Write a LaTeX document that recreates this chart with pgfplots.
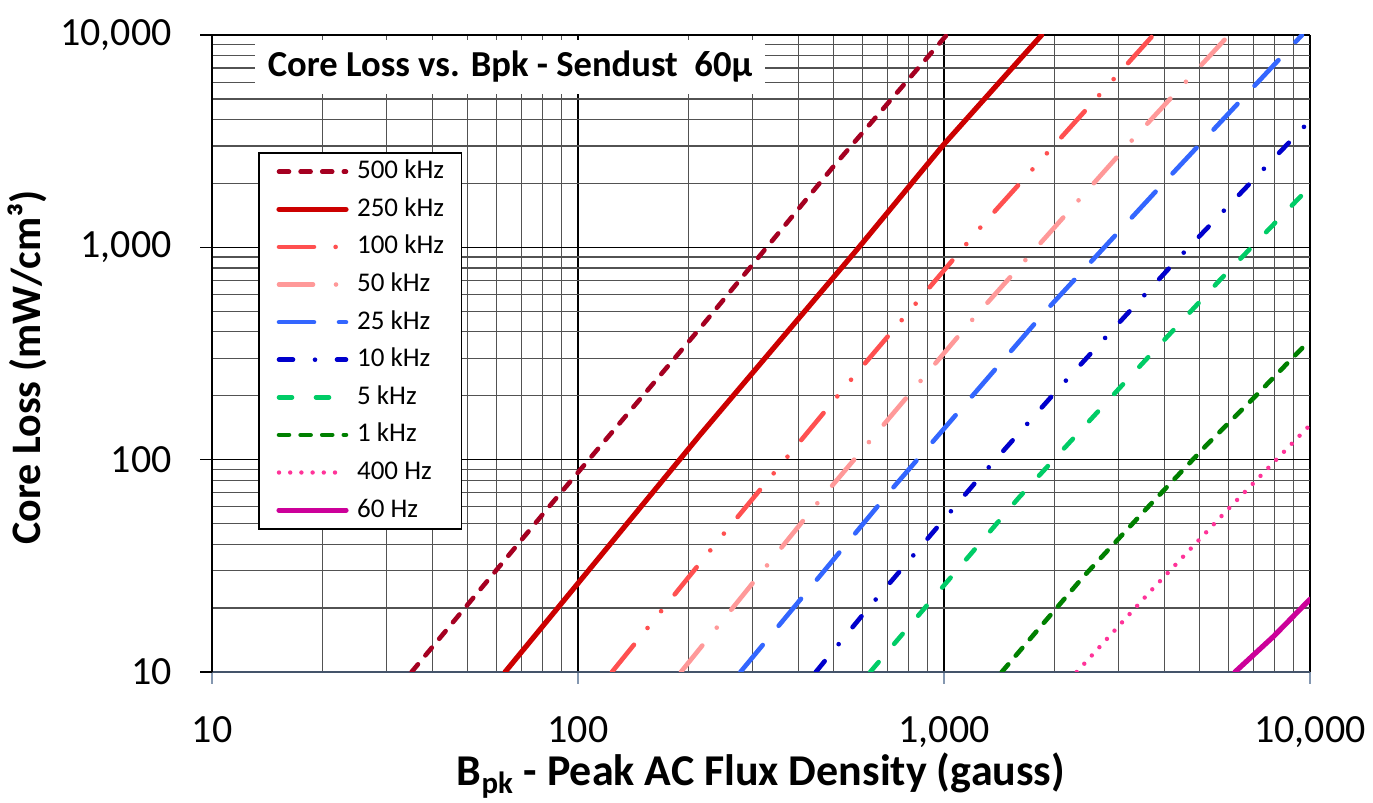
\documentclass[border=0pt]{standalone}
\usepackage{pgfplots}
\pgfplotsset{compat=1.18}
\usepackage{fontspec}
\setmainfont{Carlito}

\definecolor{c500}{HTML}{A50021}
\definecolor{c250}{HTML}{CC0000}
\definecolor{c100}{HTML}{FF5050}
\definecolor{c50}{HTML}{FF9999}
\definecolor{c25}{HTML}{3366FF}
\definecolor{c10}{HTML}{0000CC}
\definecolor{c5}{HTML}{00CC66}
\definecolor{c1k}{HTML}{008000}
\definecolor{c400}{HTML}{FF3399}
\definecolor{c60}{HTML}{CC0099}
\definecolor{axisblue}{HTML}{44546A}
\definecolor{tickblue}{HTML}{8497B0}

\begin{document}
\begin{tikzpicture}
\useasboundingbox (-106pt,-65.5pt) rectangle (580.5pt,336pt);
\begin{axis}[
    at={(0,0)}, anchor=south west,
    scale only axis, width=549pt, height=318.5pt,
    xmode=log, ymode=log,
    xmin=10, xmax=10000, ymin=10, ymax=10000,
    axis lines*=left,
    x axis line style={draw=axisblue, line width=1.1pt},
    y axis line style={draw=black, line width=0.9pt},
    xtick={10,100,1000,10000}, xticklabels={10,100,{1,000},{10,000}},
    ytick={10,100,1000,10000}, yticklabels={10,100,{1,000},{10,000}},
    minor xtick={20,30,40,50,60,70,80,90,200,300,400,500,600,700,800,900,2000,3000,4000,5000,6000,7000,8000,9000},
    minor ytick={20,30,40,50,60,70,80,90,200,300,400,500,600,700,800,900,2000,3000,4000,5000,6000,7000,8000,9000},
    tick align=outside, major tick length=6pt, minor tick length=0pt,
    xtick style={draw=tickblue, line width=0.8pt},
    ytick style={draw=black, line width=0.8pt},
    grid=both,
    major grid style={black, line width=0.6pt},
    minor grid style={black!68, line width=0.6pt},
    every tick label/.append style={font=\fontsize{20}{20}\selectfont},
    xticklabel style={anchor=north, inner sep=0pt, yshift=-16pt},
    yticklabel style={anchor=east, inner sep=0pt, xshift=-14pt},
    xlabel={B\textsubscript{pk} - Peak AC Flux Density (gauss)},
    xlabel style={font=\bfseries\fontsize{22}{22}\selectfont,
        at={([yshift=-57pt]axis description cs:0.5,0)}, anchor=base},
    ylabel={Core Loss (mW/cm³)},
    ylabel style={font=\bfseries\fontsize{21}{21}\selectfont,
        at={([xshift=-85.5pt,yshift=-7pt]axis description cs:0,0.5)}, anchor=base},
    legend style={at={(0.0419,0.8163)}, anchor=north west,
        draw=black, line width=0.9pt, fill=white,
        inner xsep=8.75pt, inner ysep=2.9pt, row sep=5.8pt, column sep=4.25pt,
        nodes={inner sep=0pt, text height=10pt, text depth=3pt},
        font=\fontsize{13.5}{14}\selectfont},
    legend cell align=left,
    legend image code/.code={\draw[#1] (0pt,0pt) -- (33.5pt,0pt);},
    every axis plot/.append style={line width=2.3pt, line cap=round},
]
% 500 kHz
\addplot[c500, dash pattern=on 5pt off 5.8pt] coordinates {
    (35.1,10) (85.6,63.4) (215.4,415.6) (498.3,2398) (1017,10000)};
% 250 kHz
\addplot[c250, line width=2.6pt] coordinates {
    (63.2,10) (215.4,130.7) (577.3,971.6) (995.6,3034) (1849,10000)};
% 100 kHz
\addplot[c100, dash pattern=on 17.5pt off 10.8pt on 0pt off 10.8pt on 0pt off 10.8pt] coordinates {
    (123.8,10) (247,43.6) (559.5,239.9) (1286,1298) (3732,10000)};
% 50 kHz
\addplot[c50, dash pattern=on 17pt off 11.5pt on 0pt off 11.5pt] coordinates {
    (191.1,10) (444.2,60.5) (1180,444.9) (3237,3145) (6007,10000)};
% 25 kHz
\addplot[c25, dash pattern=on 17.5pt off 12.5pt] coordinates {
    (277.8,10) (719.6,72.5) (1888,497.6) (3974,2002) (9509,10000)};
% 10 kHz
\addplot[c10, dash pattern=on 7pt off 11pt on 0pt off 11pt] coordinates {
    (446.4,10) (604.4,18.9) (1244,81.4) (2036,212.2) (4324,871.9) (10000,3954)};
% 5 kHz
\addplot[c5, dash pattern=on 6.5pt off 12pt] coordinates {
    (628.5,10) (1596,65.8) (3013,216.8) (5676,702) (10000,1930)};
% 1 kHz
\addplot[c1k, dash pattern=on 5pt off 5.8pt] coordinates {
    (1438,10) (2403,28.1) (3615,60.0) (5221,117.3) (6929,191.0) (10000,366)};
% 400 Hz
\addplot[c400, line width=2.2pt, dash pattern=on 0pt off 5.6pt] coordinates {
    (2305,10) (3671,24.07) (5884,56.9) (10000,145.6)};
% 60 Hz
\addplot[c60, line width=2.6pt] coordinates {
    (6239,10) (7937,14.66) (10000,22.0)};
\legend{500 kHz,250 kHz,100 kHz,50 kHz,25 kHz,10 kHz,5 kHz,1 kHz,400 Hz,60 Hz}
\node[fill=white, inner sep=0pt, minimum width=255pt, minimum height=27pt,
      font=\bfseries\fontsize{18.3}{19}\selectfont]
      at (rel axis cs:0.2714,0.9498) {Core Loss vs. Bpk - Sendust\ \ 60µ};
\end{axis}
\end{tikzpicture}
\end{document}
